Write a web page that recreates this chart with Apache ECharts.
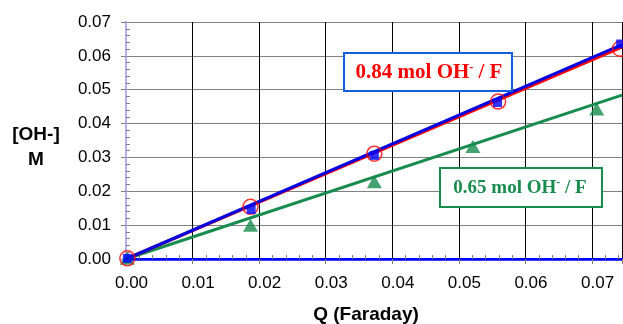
<!DOCTYPE html>
<html>
<head>
<meta charset="utf-8">
<script src="https://cdn.jsdelivr.net/npm/echarts@6/dist/echarts.min.js"></script>
<style>
  html, body { margin: 0; padding: 0; background: #fff; }
  #chart { width: 623px; height: 324px; }
</style>
</head>
<body>
<div id="chart"></div>
<script>
// 测量点 (Q, [OH-])
var qRed = [0.0002, 0.0187, 0.0373, 0.0559, 0.0742];
var ohRed = [0.0002, 0.0154, 0.0311, 0.0465, 0.0621];
var qBlue = [0.0002, 0.0188, 0.0373, 0.0558, 0.0743];
var ohBlue = [0.0002, 0.0146, 0.0306, 0.0462, 0.0635];
var qGreen = [0.0002, 0.0187, 0.0373, 0.0521, 0.0707];
var ohGreen = [0.0002, 0.0100, 0.0228, 0.0332, 0.0443];
// 趋势线端点
var trendQ = [0, 0.0745];
var trendRed = [0, 0.0626];
var trendBlue = [0, 0.0633];
var trendGreen = [0, 0.0484];
var xTicks = ['0.00', '0.01', '0.02', '0.03', '0.04', '0.05', '0.06', '0.07'];
var yTicks = ['0.00', '0.01', '0.02', '0.03', '0.04', '0.05', '0.06', '0.07'];

var RED = '#ff0000', BLUE = '#0000e0', GREEN = '#178c4c';
var FONT = '"Liberation Sans", Arial, sans-serif';
var SERIF = '"Liberation Serif", "Times New Roman", serif';

function pairs(xs, ys) {
  return xs.map(function (x, i) { return [x, ys[i]]; });
}
function isMajor(v) {
  return Math.abs(v * 100 - Math.round(v * 100)) < 1e-6;
}
function fmt(list) {
  return function (v) {
    if (!isMajor(v)) return '';
    var s = list[Math.round(v * 100)];
    return s === undefined ? '' : s;
  };
}

var chart = echarts.init(document.getElementById('chart'), null, { renderer: 'canvas' });

var option = {
  backgroundColor: '#fff',
  animation: false,
  grid: { left: 126, right: 1, top: 22, bottom: 65, containLabel: false, outerBoundsMode: 'none' },
  xAxis: [{
    type: 'value', position: 'bottom', min: 0, max: 0.0745, interval: 0.01,
    name: 'Q (Faraday)', nameLocation: 'middle', nameGap: 56,
    nameTextStyle: { fontFamily: FONT, fontSize: 19, fontWeight: 'bold', color: '#000',
      verticalAlign: 'middle', padding: [0, 16, 0, 0] },
    axisLine: { show: true, lineStyle: { color: '#0000ff', width: 2 } },
    axisTick: { show: true, inside: false, length: 5, lineStyle: { color: '#808080' } },
    axisLabel: { fontFamily: FONT, fontSize: 17, color: '#000', margin: 16,
      padding: [0, 0, 0, 11], formatter: fmt(xTicks) },
    splitLine: { show: true, lineStyle: { color: '#000', width: 1 } }
  }, {
    type: 'value', position: 'bottom', min: 0, max: 0.0745, interval: 0.01,
    axisLine: { show: false },
    axisTick: { show: false, inside: true },
    minorTick: { show: true, splitNumber: 5, length: 4, lineStyle: { color: '#808080' } },
    axisLabel: { show: false },
    splitLine: { show: false }
  }, {
    type: 'value', position: 'top', min: 0, max: 0.0745,
    axisLine: { show: true, lineStyle: { color: '#0000ff', width: 2.5 } },
    axisTick: { show: false }, axisLabel: { show: false }, splitLine: { show: false }
  }],
  yAxis: [{
    type: 'value', position: 'left', min: 0, max: 0.07, interval: 0.01,
    axisLine: { show: true, lineStyle: { color: '#8c8ccc', width: 2 } },
    axisTick: { show: true, inside: false, length: 5, lineStyle: { color: '#808080' } },
    axisLabel: { fontFamily: FONT, fontSize: 17, color: '#000', margin: 15, formatter: fmt(yTicks) },
    splitLine: { show: true, lineStyle: { color: '#808080', width: 1 } }
  }, {
    type: 'value', position: 'left', min: 0, max: 0.07, interval: 0.01,
    axisLine: { show: false },
    axisTick: { show: false, inside: true },
    minorTick: { show: true, splitNumber: 5, length: 4, lineStyle: { color: '#808080' } },
    axisLabel: { show: false }, splitLine: { show: false }
  }, {
    type: 'value', position: 'right', min: 0, max: 0.07,
    axisLine: { show: true, lineStyle: { color: '#b0b0f0', width: 2 } },
    axisTick: { show: false }, axisLabel: { show: false }, splitLine: { show: false }
  }],
  series: [{
    type: 'line', data: pairs(trendQ, trendGreen), symbol: 'none',
    lineStyle: { color: GREEN, width: 3 }, z: 3
  }, {
    type: 'line', data: pairs(trendQ, trendRed), symbol: 'none',
    lineStyle: { color: RED, width: 3 }, z: 3
  }, {
    type: 'line', data: pairs(trendQ, trendBlue), symbol: 'none',
    lineStyle: { color: BLUE, width: 3 }, z: 4
  }, {
    type: 'scatter', data: pairs(qGreen, ohGreen), symbol: 'triangle', symbolSize: [15, 13],
    itemStyle: { color: GREEN }, z: 5
  }, {
    type: 'scatter', data: pairs(qRed, ohRed), symbol: 'circle', symbolSize: 15,
    itemStyle: { color: 'rgba(0,0,0,0)', borderColor: RED, borderWidth: 1.5 }, z: 5
  }, {
    type: 'scatter', data: pairs(qBlue, ohBlue), symbol: 'rect', symbolSize: 9,
    itemStyle: { color: '#0000ff' }, z: 6
  }],
  graphic: [{
    type: 'text', x: 36, y: 135,
    style: { text: '[OH-]', align: 'center', verticalAlign: 'middle',
      fontFamily: FONT, fontSize: 19, fontWeight: 'bold', fill: '#000' }
  }, {
    type: 'text', x: 36, y: 160,
    style: { text: 'M', align: 'center', verticalAlign: 'middle',
      fontFamily: FONT, fontSize: 19, fontWeight: 'bold', fill: '#000' }
  }, {
    type: 'rect', z: 100,
    shape: { x: 344, y: 53, width: 168, height: 38 },
    style: { fill: '#fff', stroke: '#1060e0', lineWidth: 2 }
  }, {
    type: 'text', z: 101, x: 429, y: 73,
    style: {
      text: '{a|0.84 mol OH}{s|-}{a| / F}',
      align: 'center', verticalAlign: 'middle',
      rich: {
        a: { fontFamily: SERIF, fontSize: 21, fontWeight: 'bold', fill: RED },
        s: { fontFamily: SERIF, fontSize: 12, fontWeight: 'bold', fill: RED, padding: [0, 0, 10, 0] }
      }
    }
  }, {
    type: 'rect', z: 100,
    shape: { x: 440, y: 168, width: 162, height: 39 },
    style: { fill: '#fff', stroke: GREEN, lineWidth: 2 }
  }, {
    type: 'text', z: 101, x: 520, y: 188,
    style: {
      text: '{a|0.65 mol OH}{s|-}{a| / F}',
      align: 'center', verticalAlign: 'middle',
      rich: {
        a: { fontFamily: SERIF, fontSize: 19, fontWeight: 'bold', fill: GREEN },
        s: { fontFamily: SERIF, fontSize: 12, fontWeight: 'bold', fill: GREEN, padding: [0, 0, 10, 0] }
      }
    }
  }]
};

chart.setOption(option);
</script>
</body>
</html>
